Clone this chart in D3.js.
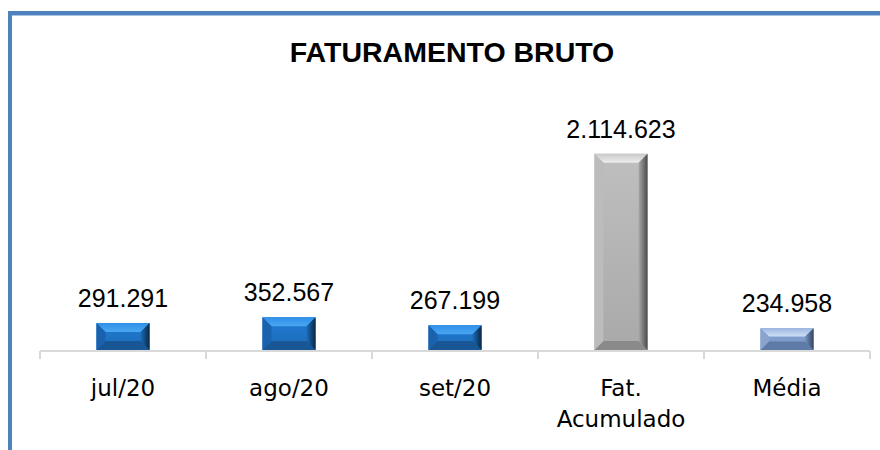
<!DOCTYPE html>
<html><head><meta charset="utf-8">
<script src="https://cdn.jsdelivr.net/npm/d3@7"></script>
<style>body{margin:0;background:#fff}svg{display:block}</style>
</head><body>
<svg id="c" width="880" height="450"></svg>
<script>
const categories = ["jul/20", "ago/20", "set/20", "Fat.|Acumulado", "Média"];
const values = [291291, 352567, 267199, 2114623, 234958];
const valueLabels = ["291.291", "352.567", "267.199", "2.114.623", "234.958"];
const barStyle = ["blue", "blue", "blue", "gray", "steel"];
const title = "FATURAMENTO BRUTO";

const svg = d3.select("#c");
const W = 880, H = 450;
const baseY = 350;

// frame
svg.append("path").attr("d", `M10,${H} L10,13 L${W},13`).attr("fill","none")
  .attr("stroke","#4f81bd").attr("stroke-width",4);
svg.append("line").attr("x1",12).attr("x2",W).attr("y1",15.5).attr("y2",15.5)
  .attr("stroke","#a9c4e6").attr("stroke-width",1);

svg.append("text").attr("x",452).attr("y",62).attr("text-anchor","middle")
  .attr("font-family","Liberation Sans, Arial, sans-serif").attr("font-weight","bold")
  .attr("font-size",28.5).attr("fill","#000").text(title);

const x = d3.scaleBand().domain(categories).range([40, 870]).paddingInner(0.68).paddingOuter(0.34);
const y = d3.scaleLinear().domain([0, 2500000]).range([baseY, 118]);

const palettes = {
  blue:  {face:"#1c6cb9", top:"#2f90e8", topHi:"#4aa6f2", left:"#1a62ad", right:"#0a2744", bottom:"#185695", line:"#5b9bd5"},
  gray:  {face:"#a9a9a9", top:"#c9c9c9", topHi:"#eeeeee", left:"#bcbcbc", right:"#4a4a4a", bottom:"#8a8a8a", line:"#bfbfbf"},
  steel: {face:"#7693c0", top:"#9db6df", topHi:"#cfe0f7", left:"#8aa4cf", right:"#34435e", bottom:"#5e7aa6", line:"#8eaadb"}
};

const defs = svg.append("defs");
Object.entries(palettes).forEach(([k,p]) => {
  const gt = defs.append("linearGradient").attr("id","top-"+k).attr("x1",0).attr("y1",0).attr("x2",0).attr("y2",1);
  gt.append("stop").attr("offset","0%").attr("stop-color",p.top);
  gt.append("stop").attr("offset","100%").attr("stop-color",p.topHi);
  const gr = defs.append("linearGradient").attr("id","right-"+k).attr("x1",0).attr("y1",0).attr("x2",1).attr("y2",0);
  gr.append("stop").attr("offset","0%").attr("stop-color",p.face);
  gr.append("stop").attr("offset","100%").attr("stop-color",p.right);
  const gf = defs.append("linearGradient").attr("id","face-"+k).attr("x1",0).attr("y1",0).attr("x2",0).attr("y2",1);
  gf.append("stop").attr("offset","0%").attr("stop-color",d3.color(p.face).brighter(0.35));
  gf.append("stop").attr("offset","100%").attr("stop-color",p.face);
});

const data = categories.map((c,i) => ({c, v: values[i], label: valueLabels[i], s: barStyle[i]}));

const bars = svg.append("g").selectAll("g").data(data).join("g");
bars.each(function(d){
  const g = d3.select(this);
  const p = palettes[d.s];
  const x0 = x(d.c), w = x.bandwidth(), x1 = x0 + w;
  const y0 = y(d.v), y1 = y(0);
  const h = y1 - y0;
  const b = Math.min(9, h/2.6, w/4);
  g.append("rect").attr("x",x0).attr("y",y0).attr("width",w).attr("height",h).attr("fill","url(#face-"+d.s+")");
  // top bevel
  g.append("polygon").attr("points",[[x0,y0],[x1,y0],[x1-b,y0+b],[x0+b,y0+b]].join(" ")).attr("fill","url(#top-"+d.s+")");
  // bottom bevel
  g.append("polygon").attr("points",[[x0,y1],[x1,y1],[x1-b,y1-b],[x0+b,y1-b]].join(" ")).attr("fill",p.bottom);
  // left bevel
  g.append("polygon").attr("points",[[x0,y0],[x0+b,y0+b],[x0+b,y1-b],[x0,y1]].join(" ")).attr("fill",p.left);
  // right bevel
  g.append("polygon").attr("points",[[x1,y0],[x1-b,y0+b],[x1-b,y1-b],[x1,y1]].join(" ")).attr("fill","url(#right-"+d.s+")");
  g.append("line").attr("x1",x0).attr("x2",x1).attr("y1",y1+1).attr("y2",y1+1).attr("stroke",p.line).attr("stroke-width",2);
});

// axis
const axisG = svg.append("g").attr("transform",`translate(0,${baseY+1})`)
  .call(d3.axisBottom(x).tickSize(0).tickFormat(""));
axisG.select(".domain").attr("stroke","#d9d9d9").attr("stroke-width",2).attr("d","M40,0H870");
const bounds = d3.range(categories.length+1).map(i => x.range()[0] + i * x.step());
axisG.selectAll(".sep").data(bounds).join("line").attr("class","sep")
  .attr("x1",d=>d).attr("x2",d=>d).attr("y1",0).attr("y2",8)
  .attr("stroke","#d9d9d9").attr("stroke-width",2);

// category labels
const lab = svg.append("g").selectAll("text").data(data).join("text")
  .attr("x", d => x(d.c) + x.bandwidth()/2).attr("y", 396)
  .attr("text-anchor","middle").attr("font-family","DejaVu Sans, sans-serif").attr("font-size",23).attr("fill","#000");
lab.each(function(d){
  const parts = d.c.split("|");
  d3.select(this).selectAll("tspan").data(parts).join("tspan")
    .attr("x", x(d.c) + x.bandwidth()/2).attr("dy",(p,i)=> i===0?0:31).text(p=>p);
});

// value labels
svg.append("g").selectAll("text").data(data).join("text")
  .attr("x", d => x(d.c) + x.bandwidth()/2).attr("y", d => y(d.v) - 16)
  .attr("text-anchor","middle").attr("font-family","Liberation Sans, Arial, sans-serif").attr("font-size",25).attr("fill","#000")
  .text(d => d.label);
</script>
</body></html>
